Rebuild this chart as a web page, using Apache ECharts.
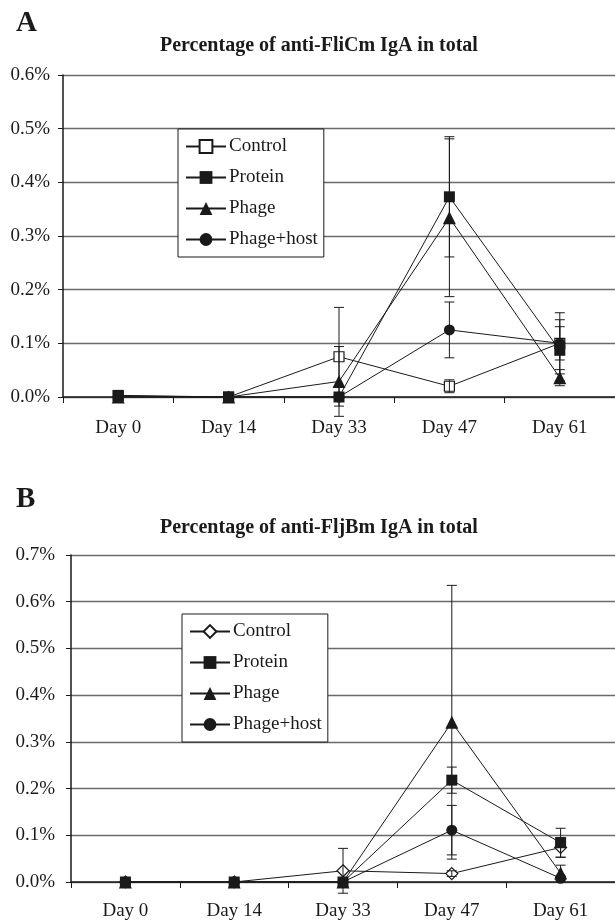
<!DOCTYPE html>
<html><head><meta charset="utf-8">
<script src="https://cdn.jsdelivr.net/npm/echarts@6/dist/echarts.min.js"></script>
<style>html,body{margin:0;padding:0;background:#fff;overflow:hidden}#a,#b{width:615px;height:461px}</style>
</head><body><div id="a"></div><div id="b"></div>
<script>
// ---------- data ----------
const days = ['Day 0', 'Day 14', 'Day 33', 'Day 47', 'Day 61'];
const groupNames = ['Control', 'Protein', 'Phage', 'Phage+host'];

// Panel A: anti-FliCm IgA (% of total)
const aControl      = [0.002, 0, 0.075, 0.020, 0.100];
const aProtein      = [0.003, 0, 0,     0.373, 0.087];
const aPhage        = [0,     0, 0.029, 0.334, 0.036];
const aPhageHost    = [0,     0, 0,     0.125, 0.100];
const aControlErr   = [0, 0, 0.092, 0.012, 0.057];
const aProteinErr   = [0, 0, 0,     0.112, 0.057];
const aPhageErr     = [0, 0, 0.065, 0.147, 0.015];
const aPhageHostErr = [0, 0, 0,     0.052, 0.031];
const aYTicks = [0, 0.1, 0.2, 0.3, 0.4, 0.5, 0.6];

// Panel B: anti-FljBm IgA (% of total)
const bControl      = [0, 0, 0.024, 0.018, 0.074];
const bProtein      = [0, 0, 0,     0.218, 0.084];
const bPhage        = [0, 0, 0,     0.342, 0.019];
const bPhageHost    = [0, 0, 0,     0.111, 0.008];
const bControlErr   = [0, 0, 0.048, 0.006, 0.021];
const bProteinErr   = [0, 0, 0,     0.028, 0.031];
const bPhageErr     = [0, 0, 0,     0.293, 0.017];
const bPhageHostErr = [0, 0, 0,     0.053, 0];
const bYTicks = [0, 0.1, 0.2, 0.3, 0.4, 0.5, 0.6, 0.7];

// ---------- drawing ----------
const SERIF = '"Liberation Serif", "DejaVu Serif", serif';
const INK = '#1a1a1a';

function errSeries(vals, errs) {
  const data = vals.map((v, i) => [i, v, errs[i]]).filter(d => d[2] > 0);
  return {
    type: 'custom', z: 5, silent: true,
    renderItem: function (params, api) {
      const x = api.value(0), v = api.value(1), e = api.value(2);
      const top = api.coord([x, v + e]);
      const bot = api.coord([x, v - e]);
      const w = 5;
      return {
        type: 'group',
        children: [
          {type: 'line', shape: {x1: top[0], y1: top[1], x2: bot[0], y2: bot[1]}, style: {stroke: INK, lineWidth: 1}},
          {type: 'line', shape: {x1: top[0] - w, y1: top[1], x2: top[0] + w, y2: top[1]}, style: {stroke: INK, lineWidth: 1}},
          {type: 'line', shape: {x1: bot[0] - w, y1: bot[1], x2: bot[0] + w, y2: bot[1]}, style: {stroke: INK, lineWidth: 1}}
        ]
      };
    },
    encode: {x: 0, y: 1},
    data: data
  };
}

function lineSeries(name, vals, symbol, size, open, z) {
  return {
    name: name, type: 'line', data: vals, symbol: symbol, symbolSize: size,
    z: z,
    lineStyle: {color: INK, width: 1},
    itemStyle: {color: open ? '#fff' : INK, borderColor: INK, borderWidth: open ? 1.2 : 0},
    emphasis: {disabled: true},
    animation: false
  };
}

function buildOption(p) {
  return {
    animation: false,
    title: [
      {text: p.letter, left: 11, top: p.letterTop, textStyle: {fontFamily: SERIF, fontWeight: 'bold', fontSize: 29, color: INK}},
      {text: p.title, left: p.titleLeft, top: p.titleTop, textStyle: {fontFamily: SERIF, fontWeight: 'bold', fontSize: 20, color: INK}}
    ],
    grid: {left: p.gridLeft, top: p.gridTop, width: p.gridWidth, height: p.gridHeight, containLabel: false},
    legend: {
      orient: 'vertical', left: p.legendLeft, top: p.legendTop,
      data: groupNames,
      backgroundColor: '#fff', borderColor: INK, borderWidth: 1,
      padding: [8, 6, 8, 7], itemGap: 12, itemWidth: 40, itemHeight: 16,
      textStyle: {fontFamily: SERIF, fontSize: 19, color: INK, padding: [0, 0, 0, -2]},
      selectedMode: false
    },
    xAxis: {
      type: 'category', data: days, boundaryGap: true,
      axisLine: {lineStyle: {color: INK, width: 1.5}},
      axisTick: {show: true, length: 6, lineStyle: {color: INK}},
      axisLabel: {margin: p.xMargin, fontFamily: SERIF, fontSize: 19, color: INK},
      splitLine: {show: false}
    },
    yAxis: {
      type: 'value', min: p.yTicks[0], max: p.yTicks[p.yTicks.length - 1], interval: 0.1,
      axisLine: {show: true, lineStyle: {color: INK, width: 1.5}},
      axisTick: {show: true, length: 5, lineStyle: {color: INK}},
      axisLabel: {margin: p.labelMargin, fontFamily: SERIF, fontSize: 19, color: INK, formatter: v => v.toFixed(1) + '%'},
      splitLine: {show: true, lineStyle: {color: '#6a6a6a', width: 1.3}}
    },
    series: [
      lineSeries('Control', p.control, p.controlSymbol, p.controlSize, true, 2),
      lineSeries('Phage+host', p.phageHost, 'circle', 11, false, 3),
      lineSeries('Phage', p.phage, 'triangle', 13, false, 3),
      lineSeries('Protein', p.protein, 'rect', 11, false, 4),
      errSeries(p.control, p.controlErr),
      errSeries(p.protein, p.proteinErr),
      errSeries(p.phage, p.phageErr),
      errSeries(p.phageHost, p.phageHostErr)
    ]
  };
}

const chartA = echarts.init(document.getElementById('a'), null, {renderer: 'canvas'});
chartA.setOption(buildOption({
  letter: 'A', letterTop: 4, title: 'Percentage of anti-FliCm IgA in total', titleLeft: 155, titleTop: 31,
  gridLeft: 63, gridTop: 75, gridWidth: 555, gridHeight: 322,
  legendLeft: 178, legendTop: 129, labelMargin: 13, xMargin: 22, yTicks: aYTicks,
  control: aControl, protein: aProtein, phage: aPhage, phageHost: aPhageHost,
  controlErr: aControlErr, proteinErr: aProteinErr, phageErr: aPhageErr, phageHostErr: aPhageHostErr,
  controlSymbol: 'rect', controlSize: 10
}));

const chartB = echarts.init(document.getElementById('b'), null, {renderer: 'canvas'});
chartB.setOption(buildOption({
  letter: 'B', letterTop: 19, title: 'Percentage of anti-FljBm IgA in total', titleLeft: 155, titleTop: 52,
  gridLeft: 71, gridTop: 94, gridWidth: 546, gridHeight: 327,
  legendLeft: 182, legendTop: 153, labelMargin: 16, xMargin: 20, yTicks: bYTicks,
  control: bControl, protein: bProtein, phage: bPhage, phageHost: bPhageHost,
  controlErr: bControlErr, proteinErr: bProteinErr, phageErr: bPhageErr, phageHostErr: bPhageHostErr,
  controlSymbol: 'diamond', controlSize: 12
}));
</script>
</body></html>
